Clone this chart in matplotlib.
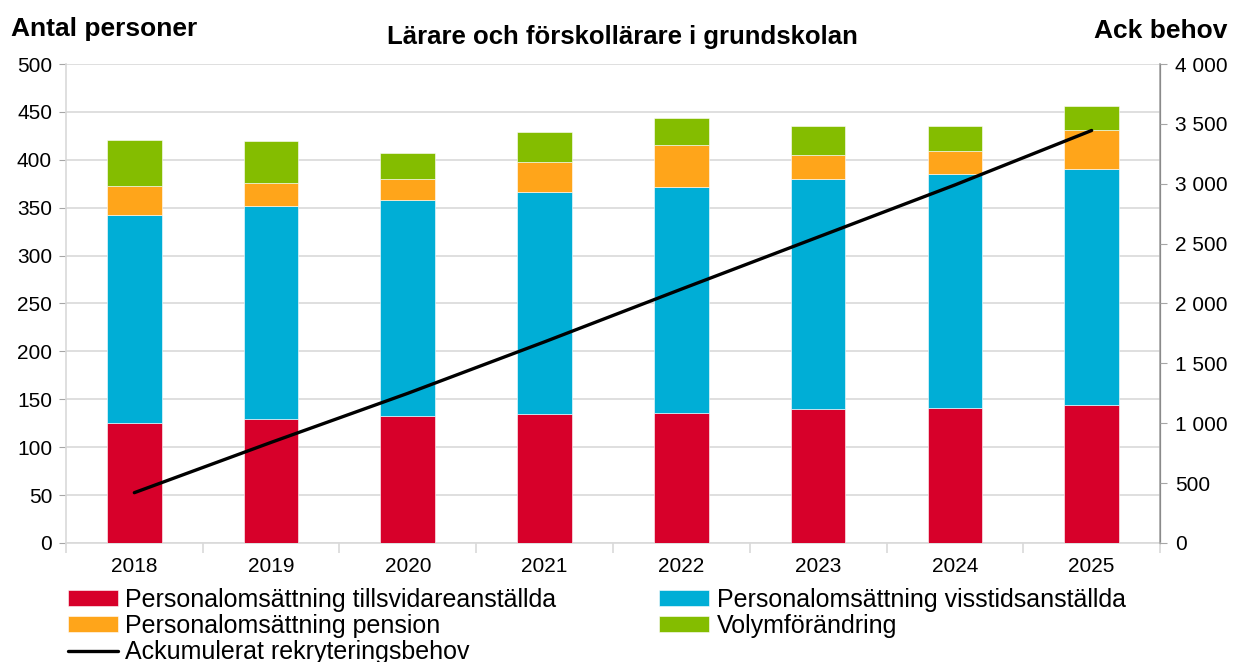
import matplotlib.pyplot as plt
from matplotlib.ticker import FuncFormatter, MultipleLocator

plt.rcParams['font.family'] = ['Liberation Sans', 'DejaVu Sans']

years = ['2018', '2019', '2020', '2021', '2022', '2023', '2024', '2025']
tillsvidare = [125, 129, 133, 135, 136, 140, 141, 144]
visstid = [217, 223, 225, 231, 236, 240, 244, 246]
pension = [31, 24, 22, 32, 43, 25, 24, 41]
volym = [48, 44, 27, 31, 29, 30, 26, 25]
ack_behov = [420, 840, 1250, 1680, 2120, 2555, 2990, 3445]

RED = '#D7002A'
BLUE = '#00AED6'
ORANGE = '#FFA51A'
GREEN = '#84BD00'
GRID = '#D9D9D9'
AXIS = '#A6A6A6'

fig = plt.figure(figsize=(12.35, 6.62), dpi=100)
ax = fig.add_axes([0.0534, 0.1798, 0.8859, 0.7235])
ax2 = ax.twinx()

x = list(range(len(years)))
w = 0.4
bottom = [0] * len(years)
series = [
    (tillsvidare, RED, 'Personalomsättning tillsvidareanställda'),
    (visstid, BLUE, 'Personalomsättning visstidsanställda'),
    (pension, ORANGE, 'Personalomsättning pension'),
    (volym, GREEN, 'Volymförändring'),
]
handles = {}
for vals, col, lab in series:
    b = ax.bar(x, vals, w, bottom=bottom, color=col, edgecolor='white',
               linewidth=0.4, label=lab, zorder=3)
    handles[lab] = b
    bottom = [a + v for a, v in zip(bottom, vals)]

line, = ax2.plot(x, ack_behov, color='black', lw=2.4,
                 solid_capstyle='round', label='Ackumulerat rekryteringsbehov',
                 zorder=4)

ax.set_xlim(-0.5, len(years) - 0.5)
ax.set_ylim(0, 500)
ax.yaxis.set_major_locator(MultipleLocator(50))
ax2.set_ylim(0, 4000)
ax2.yaxis.set_major_locator(MultipleLocator(500))
ax2.yaxis.set_major_formatter(
    FuncFormatter(lambda v, p: f'{int(v):,}'.replace(',', ' ')))

ax.grid(axis='y', color=GRID, lw=1.2, zorder=0)
ax.set_axisbelow(True)

# category boundaries get the tick marks, the year sits in between
ax.set_xticks([i - 0.5 for i in range(len(years) + 1)], minor=False)
ax.set_xticklabels([])
ax.set_xticks(x, minor=True)
ax.set_xticklabels(years, minor=True, fontsize=15)
ax.tick_params(axis='x', which='minor', length=0, pad=10)
ax.tick_params(axis='x', which='major', length=7, color=GRID, width=1.2)
ax.tick_params(axis='y', labelsize=15, length=5, color=AXIS, pad=5)
ax2.tick_params(axis='y', labelsize=15, length=5, color=AXIS, pad=6)

for a in (ax, ax2):
    a.spines['top'].set_visible(False)
ax.spines['left'].set_color(GRID)
ax.spines['bottom'].set_color(GRID)
ax.spines['left'].set_linewidth(1.2)
ax.spines['bottom'].set_linewidth(1.2)
ax2.spines['left'].set_visible(False)
ax2.spines['bottom'].set_visible(False)
ax2.spines['right'].set_color(AXIS)
ax2.spines['right'].set_linewidth(1.2)

fig.text(0.504, 0.944, 'Lärare och förskollärare i grundskolan',
         ha='center', va='center', fontsize=18.5, fontweight='bold')
fig.text(0.009, 0.956, 'Antal personer', ha='left', va='center',
         fontsize=19, fontweight='bold')
fig.text(0.994, 0.953, 'Ack behov', ha='right', va='center',
         fontsize=19, fontweight='bold')

order = ['Personalomsättning tillsvidareanställda',
         'Personalomsättning pension',
         'Personalomsättning visstidsanställda',
         'Volymförändring']
hl = [handles[order[0]], handles[order[1]], line,
      handles[order[2]], handles[order[3]]]
ll = [order[0], order[1], 'Ackumulerat rekryteringsbehov', order[2], order[3]]
fig.legend(hl, ll, ncol=2, loc='upper left', bbox_to_anchor=(0.055, 0.112),
           frameon=False, fontsize=18, handlelength=2.0, handleheight=0.6,
           handletextpad=0.3, labelspacing=0.09, columnspacing=4.1,
           borderpad=0, borderaxespad=0)

fig.savefig('out.png', dpi=100)
